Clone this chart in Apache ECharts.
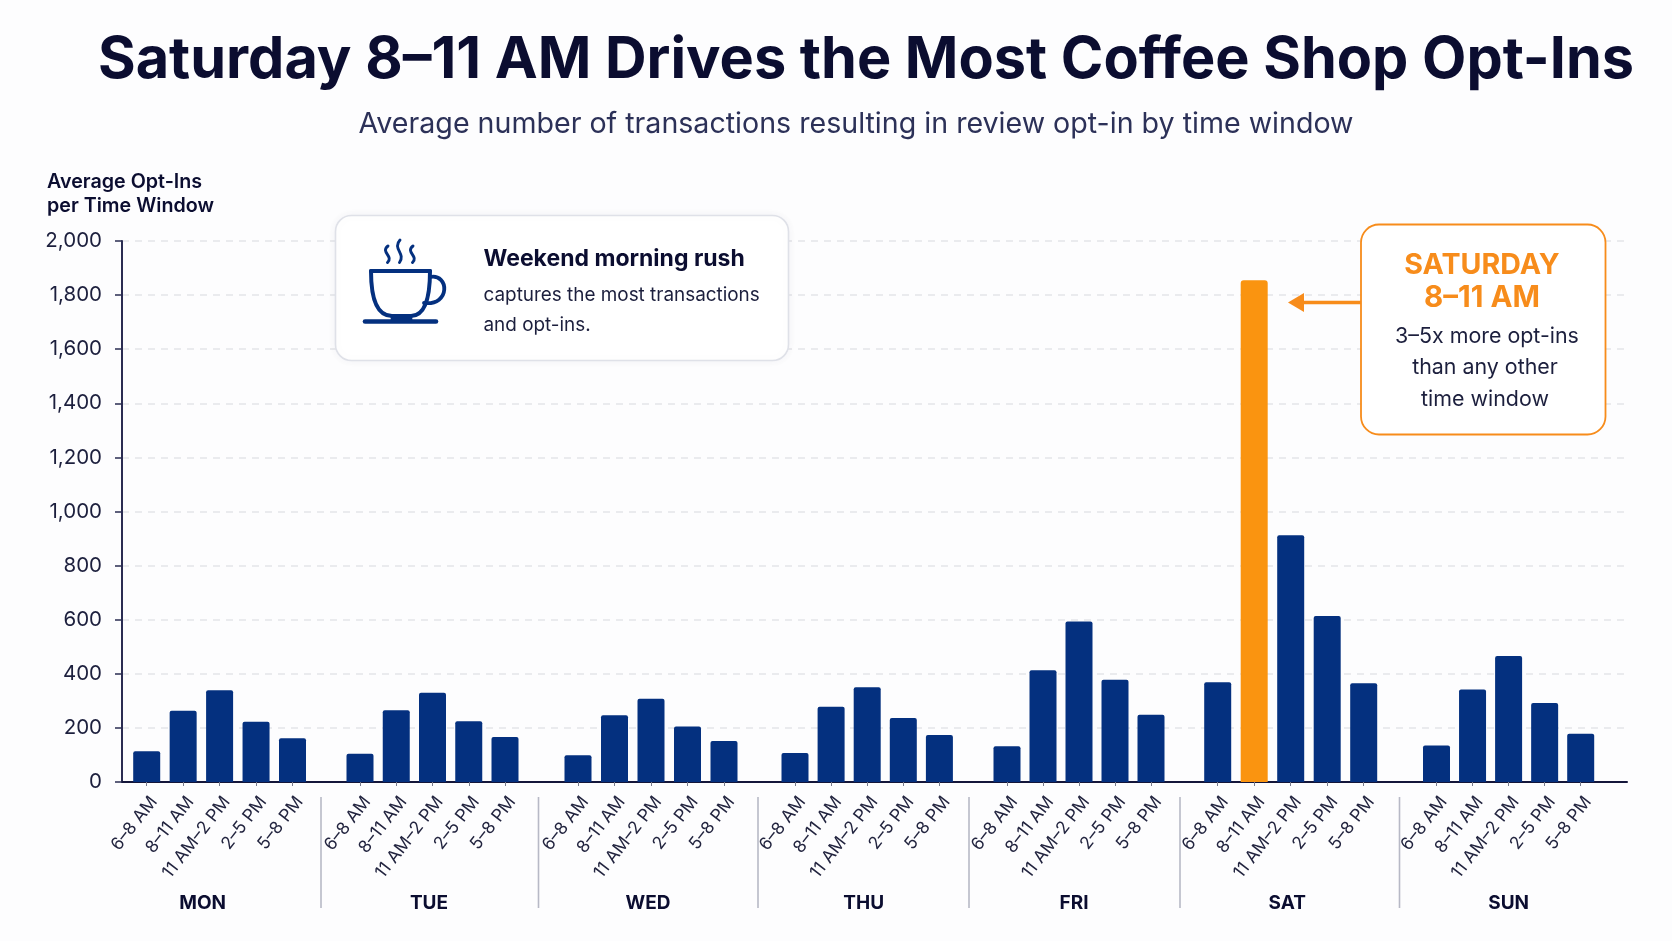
<!DOCTYPE html>
<html>
<head>
<meta charset="utf-8">
<title>Coffee shop review opt-ins</title>
<style>
  html, body { margin: 0; padding: 0; background: #fdfdfe; }
  #chart { width: 1672px; height: 941px; }
</style>
<script src="https://cdn.jsdelivr.net/npm/echarts@6/dist/echarts.min.js"></script>
</head>
<body>
<div id="chart"></div>
<script>
// Average opt-ins per time window, one list per day
const timeWindows = ['6–8 AM', '8–11 AM', '11 AM–2 PM', '2–5 PM', '5–8 PM'];
const dayNames = ['MON', 'TUE', 'WED', 'THU', 'FRI', 'SAT', 'SUN'];
const mon = [114, 263, 339, 223, 162];
const tue = [104, 265, 330, 225, 166];
const wed = [99, 247, 308, 205, 152];
const thu = [107, 278, 350, 237, 174];
const fri = [132, 413, 593, 378, 249];
const sat = [369, 1855, 912, 614, 365];
const sun = [135, 342, 466, 292, 178];
const dayValues = [mon, tue, wed, thu, fri, sat, sun];

// The peak window that gets the accent colour
const peakDay = 'SAT';
const peakWindow = '8–11 AM';

// Colours
const NAVY = '#04307f';
const ORANGE = '#fa9410';
const ORANGE_LINE = '#f78c1b';
const INK = '#0b0d30';
const TEXT = '#1c1f3d';
const FONT = 'Inter';

// Plot frame
const plotTop = 241, plotHeight = 541, plotLeft = 122, plotRight = 1627;

// Horizontal band of each day: first bar centre, bar step, and day-name nudge
const dayBands = [
  { first: 146.7, step: 36.45, nudge: -17 },
  { first: 360.0, step: 36.25, nudge: -3.5 },
  { first: 578.0, step: 36.5, nudge: -3 },
  { first: 795.0, step: 36.1, nudge: -3.5 },
  { first: 1007.0, step: 36.0, nudge: -5 },
  { first: 1217.7, step: 36.5, nudge: -3.5 },
  { first: 1436.5, step: 36.05, nudge: 0 }
];
const separators = [321, 538.5, 758, 969, 1180, 1399.5];

const grids = [{ left: plotLeft, top: plotTop, width: plotRight - plotLeft, height: plotHeight }];
const xAxes = [{
  gridIndex: 0, type: 'value', min: 0, max: 1,
  axisLine: { show: true, onZero: false, lineStyle: { color: '#14163a', width: 2 } },
  axisTick: { show: false }, axisLabel: { show: false }, splitLine: { show: false }
}];
const yAxes = [{
  gridIndex: 0, type: 'value', min: 0, max: 2000, interval: 200,
  axisLine: { show: true, lineStyle: { color: '#2a2c52', width: 2 } },
  axisTick: { show: true, length: 7, lineStyle: { color: '#2a2c52', width: 1.5 } },
  axisLabel: {
    margin: 20, fontFamily: FONT, fontSize: 20.5, color: TEXT,
    formatter: v => v.toLocaleString('en-US')
  },
  splitLine: { show: true, lineStyle: { color: '#e4e5e9', type: [7, 6], width: 1.5 } }
}];
const series = [];

dayNames.forEach((day, i) => {
  const band = dayBands[i];
  const idx = i + 1;
  grids.push({
    left: band.first - band.step / 2, top: plotTop,
    width: band.step * 5, height: plotHeight
  });
  xAxes.push({
    gridIndex: idx, type: 'category', data: timeWindows,
    axisLine: { show: false },
    axisTick: { show: true, alignWithLabel: true, length: 4, lineStyle: { color: '#777a8c', width: 1 } },
    axisLabel: {
      interval: 0, rotate: 52, margin: 11, fontFamily: FONT, fontSize: 17.5, color: '#22243f',
      hideOverlap: false, verticalAlign: 'top'
    },
    name: day, nameLocation: 'middle', nameGap: 111.5, nameMoveOverlap: false,
    nameTextStyle: {
      fontFamily: FONT, fontSize: 19, fontWeight: 700, color: INK,
      padding: band.nudge < 0 ? [0, -2 * band.nudge, 0, 0] : 0
    }
  });
  yAxes.push({
    gridIndex: idx, type: 'value', min: 0, max: 2000, interval: 200, show: false,
    splitLine: { show: false }
  });
  series.push({
    type: 'bar', name: day, xAxisIndex: idx, yAxisIndex: idx, barWidth: 27, z: 3,
    itemStyle: { color: NAVY, borderRadius: [2, 2, 0, 0] },
    data: dayValues[i].map((v, j) => (day === peakDay && timeWindows[j] === peakWindow)
      ? { value: v, itemStyle: { color: ORANGE, borderColor: ORANGE, borderWidth: 2 } }
      : v)
  });
});

// Day separators below the axis
const graphics = separators.map(x => ({
  type: 'line', silent: true, z: 5,
  shape: { x1: x, y1: 797, x2: x, y2: 908 },
  style: { stroke: '#b7b9c6', lineWidth: 1.6 }
}));

// Small helpers for the annotation drawings
const stroke = (color, lineWidth) => ({ stroke: color, lineWidth, fill: 'none', lineCap: 'round', lineJoin: 'round' });
const label = (text, x, y, size, weight, fill, align) => ({
  type: 'text', z: 30, x, y,
  style: {
    text, fill, align: align || 'left', verticalAlign: 'middle',
    font: `${weight} ${size}px ${FONT}`
  }
});
const curve = (x1, y1, cx1, cy1, cx2, cy2, x2, y2, w) => ({
  type: 'bezierCurve', z: 30,
  shape: { x1, y1, cpx1: cx1, cpy1: cy1, cpx2: cx2, cpy2: cy2, x2, y2 },
  style: stroke(NAVY, w)
});
const segment = (x1, y1, x2, y2, w) => ({
  type: 'line', z: 30, shape: { x1, y1, x2, y2 }, style: stroke(NAVY, w)
});
const steam = (x, top, bottom) => {
  const h = bottom - top;
  return curve(x + 1, top, x - 7, top + h * 0.38, x + 7, top + h * 0.6, x + 0.5, bottom, 2.9);
};

graphics.push(
  // Weekend callout card
  {
    type: 'rect', z: 20,
    shape: { x: 335.5, y: 215.5, width: 453, height: 145, r: 16 },
    style: { fill: '#ffffff', stroke: '#dfe1e8', lineWidth: 1.6, shadowColor: 'rgba(30,40,90,0.05)', shadowBlur: 8 }
  },
  steam(387, 246, 262.5), steam(399, 240, 262.5), steam(412, 246, 262.5),
  segment(371, 271, 430, 271, 4),
  curve(371, 271, 371, 300, 377, 316, 392, 316, 4),
  curve(430, 271, 430, 300, 424, 316, 411, 316, 4),
  segment(392, 316, 411, 316, 4),
  curve(430, 277, 449, 273, 451, 306, 424, 303, 3.8),
  segment(365, 321.5, 436, 321.5, 4.6),
  segment(392, 319, 411, 319, 3),
  label('Weekend morning rush', 483.5, 259.5, 23, 700, INK),
  label('captures the most transactions', 483.5, 295, 18.9, 400, TEXT),
  label('and opt-ins.', 483.5, 325, 18.9, 400, TEXT),

  // Peak callout card with its arrow
  {
    type: 'line', z: 20,
    shape: { x1: 1361, y1: 302.5, x2: 1302, y2: 302.5 },
    style: { stroke: ORANGE_LINE, lineWidth: 3.6 }
  },
  {
    type: 'polygon', z: 20,
    shape: { points: [[1288, 302.5], [1304, 293], [1304, 312]] },
    style: { fill: ORANGE_LINE }
  },
  {
    type: 'rect', z: 20,
    shape: { x: 1361, y: 224.5, width: 244.5, height: 210, r: 18 },
    style: { fill: '#ffffff', stroke: ORANGE_LINE, lineWidth: 1.8 }
  },
  label('SATURDAY', 1482, 265.5, 28.6, 700, ORANGE_LINE, 'center'),
  label('8–11 AM', 1482, 298.5, 29.5, 700, ORANGE_LINE, 'center'),
  label('3–5x more opt-ins', 1487, 337, 21.4, 400, TEXT, 'center'),
  label('than any other', 1485, 368, 21.4, 400, TEXT, 'center'),
  label('time window', 1485, 399.5, 21.4, 400, TEXT, 'center')
);

const chart = echarts.init(document.getElementById('chart'), null, { renderer: 'canvas' });
chart.setOption({
  backgroundColor: '#fdfdfe',
  animation: false,
  title: [
    {
      text: 'Saturday 8–11 AM Drives the Most Coffee Shop Opt-Ins',
      left: 861, top: 56, textAlign: 'center', textVerticalAlign: 'middle',
      textStyle: { fontFamily: FONT, fontSize: 57.6, fontWeight: 700, color: INK }
    },
    {
      text: 'Average number of transactions resulting in review opt-in by time window',
      left: 851, top: 119, textAlign: 'center', textVerticalAlign: 'middle',
      textStyle: { fontFamily: FONT, fontSize: 28.6, fontWeight: 400, color: '#2c3158' }
    },
    {
      text: 'Average Opt-Ins\nper Time Window',
      left: 42, top: 165,
      textStyle: { fontFamily: FONT, fontSize: 19.7, fontWeight: 600, color: INK, lineHeight: 24 }
    }
  ],
  grid: grids,
  xAxis: xAxes,
  yAxis: yAxes,
  series,
  graphic: { elements: graphics }
});
</script>
</body>
</html>
